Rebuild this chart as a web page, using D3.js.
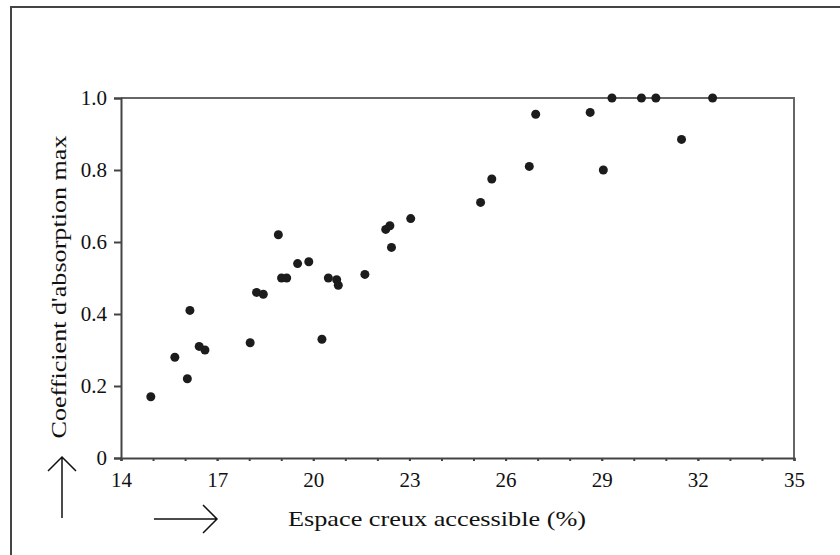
<!DOCTYPE html>
<html>
<head>
<meta charset="utf-8">
<script src="https://cdn.jsdelivr.net/npm/d3@7"></script>
<style>
  body { margin: 0; background: #fff; }
  svg { display: block; }
  .axis path, .axis line { stroke: #444; }
  .axis text { font-family: "Liberation Serif", "Times New Roman", serif; font-size: 21px; fill: #111; }
</style>
</head>
<body>
<svg width="840" height="555"></svg>
<script>
// espace creux accessible (%)
var espace = [14.93, 15.68, 16.07, 16.15, 16.44, 16.62, 18.03, 18.23, 18.44, 18.91,
  19.01, 19.17, 19.51, 19.86, 20.27, 20.47, 20.73, 20.78, 21.61, 22.26,
  22.39, 22.44, 23.04, 25.22, 25.57, 26.74, 26.94, 28.64, 29.05, 29.32,
  30.24, 30.69, 31.49, 32.46];
// coefficient d'absorption max
var coeff = [0.17, 0.28, 0.22, 0.41, 0.31, 0.30, 0.32, 0.46, 0.455, 0.62,
  0.50, 0.50, 0.54, 0.545, 0.33, 0.50, 0.495, 0.48, 0.51, 0.635,
  0.645, 0.585, 0.665, 0.71, 0.775, 0.81, 0.955, 0.96, 0.80, 1.0,
  1.0, 1.0, 0.885, 1.0];
var xTicks = [14, 17, 20, 23, 26, 29, 32, 35];
var yTicks = [0, 0.2, 0.4, 0.6, 0.8, 1.0];
var yTickLabels = ["0", "0.2", "0.4", "0.6", "0.8", "1.0"];

var svg = d3.select("svg");
var serif = "'Liberation Serif', 'Times New Roman', serif";

// outer frame (left and top edges only are visible)
svg.append("path")
  .attr("d", "M11,555 L11,7 L840,7")
  .attr("fill", "none")
  .attr("stroke", "#444")
  .attr("stroke-width", 2);

var x = d3.scaleLinear().domain([14, 35]).range([121, 794]);
var y = d3.scaleLinear().domain([0, 1]).range([458, 98]);

// plot box top and right
svg.append("path")
  .attr("d", "M" + x(14) + "," + y(1) + " L" + x(35) + "," + y(1) + " L" + x(35) + "," + y(0))
  .attr("fill", "none")
  .attr("stroke", "#666")
  .attr("stroke-width", 2);

// minor x ticks every unit
svg.append("g")
  .attr("class", "axis")
  .attr("transform", "translate(0," + y(0) + ")")
  .call(d3.axisBottom(x).tickValues(d3.range(14, 36, 1)).tickSize(3).tickFormat(""))
  .call(function (g) { g.selectAll("path,line").attr("stroke-width", 2); });

svg.append("g")
  .attr("class", "axis")
  .attr("transform", "translate(0," + y(0) + ")")
  .call(d3.axisBottom(x).tickValues(xTicks).tickSize(3).tickPadding(11).tickFormat(d3.format("d")))
  .call(function (g) { g.select(".domain").remove(); g.selectAll("line").attr("stroke-width", 2); });

svg.append("g")
  .attr("class", "axis")
  .attr("transform", "translate(" + x(14) + ",0)")
  .call(d3.axisLeft(y).tickValues(yTicks).tickSize(7).tickPadding(7)
    .tickFormat(function (d, i) { return yTickLabels[i]; }))
  .call(function (g) { g.selectAll("path,line").attr("stroke-width", 2); });

// points
svg.append("g")
  .selectAll("circle")
  .data(espace)
  .enter().append("circle")
  .attr("cx", function (d) { return x(d); })
  .attr("cy", function (d, i) { return y(coeff[i]); })
  .attr("r", 4.5)
  .attr("fill", "#1c1c1c");

// axis titles
svg.append("text")
  .attr("x", 437)
  .attr("y", 526)
  .attr("text-anchor", "middle")
  .attr("font-family", serif)
  .attr("font-size", 21)
  .attr("textLength", 298)
  .attr("lengthAdjust", "spacingAndGlyphs")
  .attr("fill", "#111")
  .text("Espace creux accessible (%)");

svg.append("text")
  .attr("transform", "translate(66,287) rotate(-90)")
  .attr("text-anchor", "middle")
  .attr("font-family", serif)
  .attr("font-size", 21)
  .attr("textLength", 303)
  .attr("lengthAdjust", "spacingAndGlyphs")
  .attr("fill", "#111")
  .text("Coefficient d'absorption max");

// arrows
var arrows = svg.append("g")
  .attr("fill", "none")
  .attr("stroke", "#111")
  .attr("stroke-width", 1.5);
arrows.append("path").attr("d", "M62,518 L62,457 M48,471 L62,457 L76,471");
arrows.append("path").attr("d", "M154,519 L217,519 M203,505 L217,519 L203,533");
</script>
</body>
</html>
